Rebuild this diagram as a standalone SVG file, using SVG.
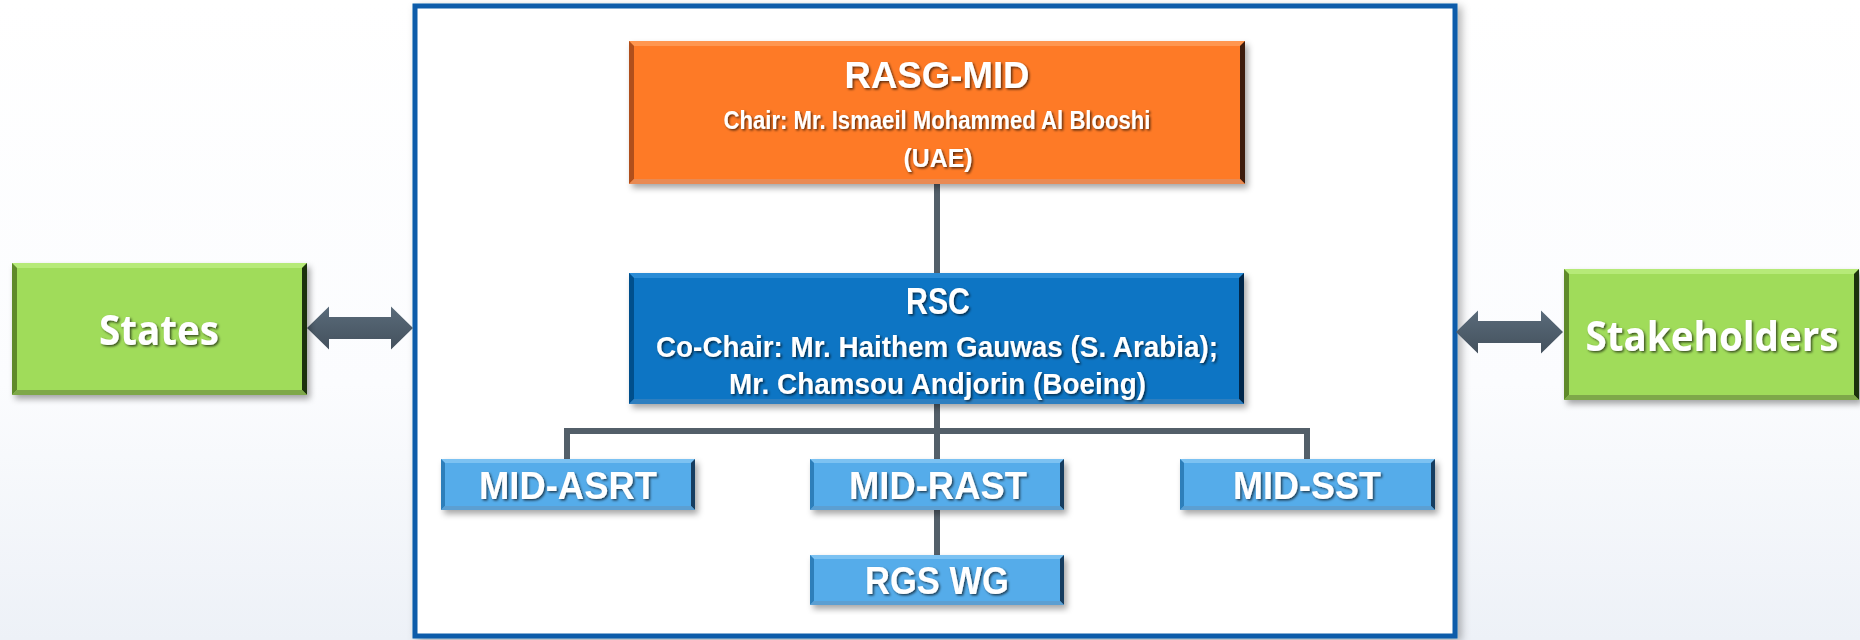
<svg xmlns="http://www.w3.org/2000/svg" width="1860" height="640" viewBox="0 0 1860 640">
  <defs>
    <linearGradient id="bg" x1="0" y1="0" x2="0" y2="1">
      <stop offset="0" stop-color="#ffffff"/>
      <stop offset="0.6" stop-color="#fbfcfe"/>
      <stop offset="1" stop-color="#edf1f7"/>
    </linearGradient>
    <linearGradient id="arrowGrad" x1="0" y1="0" x2="0" y2="1">
      <stop offset="0" stop-color="#5a6b7a"/>
      <stop offset="1" stop-color="#44515d"/>
    </linearGradient>
    <filter id="boxShadow" x="-10%" y="-10%" width="120%" height="130%">
      <feDropShadow dx="3" dy="4" stdDeviation="3" flood-color="#000" flood-opacity="0.35"/>
    </filter>
    <filter id="frameShadow" x="-5%" y="-5%" width="110%" height="110%">
      <feDropShadow dx="4" dy="3" stdDeviation="4" flood-color="#000" flood-opacity="0.3"/>
    </filter>
    <filter id="textShadow" x="-10%" y="-20%" width="120%" height="150%">
      <feDropShadow dx="1.5" dy="1.5" stdDeviation="1" flood-color="#000" flood-opacity="0.65"/>
    </filter>
  </defs>
  <style>
    .t { font-family: "Liberation Sans", Arial, sans-serif; font-weight: bold; fill: #ffffff; text-anchor: middle; filter: url(#textShadow); }
    .t2 { font-family: "Open Sans", "Liberation Sans", sans-serif; font-weight: bold; fill: #ffffff; text-anchor: middle; filter: url(#textShadow); }
    .orange { fill: #fe7a28; }
    .blue { fill: #0874c4; }
    .lblue { fill: #55acea; }
    .green { fill: #a0dc5a; }
    .o-top { fill: #ff9650; } .o-left { fill: #b0501a; } .o-right { fill: #3c1a08; } .o-bot { fill: #e98a52; }
    .b-top { fill: #2a8cd6; } .b-left { fill: #04508c; } .b-right { fill: #02254a; } .b-bot { fill: #2f7fc0; }
    .l-top { fill: #7cc2f2; } .l-left { fill: #2f7fba; } .l-right { fill: #163c60; } .l-bot { fill: #5b9fd2; }
    .g-top { fill: #b6ea78; } .g-left { fill: #5e8a2a; } .g-right { fill: #1e3008; } .g-bot { fill: #7ea84a; }
    .conn { fill: none; stroke: #535f69; stroke-width: 6; stroke-linejoin: miter; stroke-linecap: butt; }
    .dbl { fill: url(#arrowGrad); }
  </style>

  <rect x="0" y="0" width="1860" height="640" fill="url(#bg)"/>

  <!-- frame -->
  <g id="frame">
    <rect x="415" y="6" width="1040" height="630" fill="#ffffff" stroke="#0a5caa" stroke-width="5" filter="url(#frameShadow)"/>
  </g>

  <!-- connectors -->
  <g id="connectors">
    <line class="conn" x1="937" y1="184" x2="937" y2="273"/>
    <line class="conn" x1="937" y1="404" x2="937" y2="459"/>
    <path class="conn" d="M567 459 V431 H1307 V459"/>
    <line class="conn" x1="937" y1="510" x2="937" y2="555"/>
    <polygon class="dbl" points="307,328 329,306.5 329,317 391,317 391,306.5 413,328 391,349.5 391,339 329,339 329,349.5"/>
    <polygon class="dbl" points="1456,332 1478,310.5 1478,321 1541,321 1541,310.5 1563,332 1541,353.5 1541,343 1478,343 1478,353.5"/>
  </g>

  <!-- RASG-MID -->
  <g id="rasg-mid">
    <g filter="url(#boxShadow)">
      <rect class="orange" x="629" y="41" width="616" height="143"/>
      <polygon class="o-top" points="629,41 1245,41 1240,46 634,46"/>
      <polygon class="o-left" points="629,41 634,46 634,179 629,184"/>
      <polygon class="o-right" points="1245,41 1245,184 1240,179 1240,46"/>
      <polygon class="o-bot" points="629,184 634,179 1240,179 1245,184"/>
    </g>
    <text class="t" x="937" y="88" font-size="36" textLength="185" lengthAdjust="spacingAndGlyphs">RASG-MID</text>
    <text class="t" x="937" y="129" font-size="25" textLength="427" lengthAdjust="spacingAndGlyphs">Chair: Mr. Ismaeil Mohammed Al Blooshi</text>
    <text class="t" x="938" y="167" font-size="25" textLength="69" lengthAdjust="spacingAndGlyphs">(UAE)</text>
  </g>

  <!-- RSC -->
  <g id="rsc">
    <g filter="url(#boxShadow)">
      <rect class="blue" x="629" y="273" width="615" height="131"/>
      <polygon class="b-top" points="629,273 1244,273 1239,278 634,278"/>
      <polygon class="b-left" points="629,273 634,278 634,399 629,404"/>
      <polygon class="b-right" points="1244,273 1244,404 1239,399 1239,278"/>
      <polygon class="b-bot" points="629,404 634,399 1239,399 1244,404"/>
    </g>
    <text class="t" x="938" y="314" font-size="37" textLength="64" lengthAdjust="spacingAndGlyphs">RSC</text>
    <text class="t" x="937" y="357" font-size="30" textLength="562" lengthAdjust="spacingAndGlyphs">Co-Chair: Mr. Haithem Gauwas (S. Arabia);</text>
    <text class="t" x="937.5" y="394" font-size="30" textLength="417" lengthAdjust="spacingAndGlyphs">Mr. Chamsou Andjorin (Boeing)</text>
  </g>

  <!-- MID-ASRT -->
  <g id="mid-asrt">
    <g filter="url(#boxShadow)">
      <rect class="lblue" x="441" y="459" width="254" height="51"/>
      <polygon class="l-top" points="441,459 695,459 691,463 445,463"/>
      <polygon class="l-left" points="441,459 445,463 445,506 441,510"/>
      <polygon class="l-right" points="695,459 695,510 691,506 691,463"/>
      <polygon class="l-bot" points="441,510 445,506 691,506 695,510"/>
    </g>
    <text class="t" x="568" y="499" font-size="38" textLength="178" lengthAdjust="spacingAndGlyphs">MID-ASRT</text>
  </g>

  <!-- MID-RAST -->
  <g id="mid-rast">
    <g filter="url(#boxShadow)">
      <rect class="lblue" x="810" y="459" width="254" height="51"/>
      <polygon class="l-top" points="810,459 1064,459 1060,463 814,463"/>
      <polygon class="l-left" points="810,459 814,463 814,506 810,510"/>
      <polygon class="l-right" points="1064,459 1064,510 1060,506 1060,463"/>
      <polygon class="l-bot" points="810,510 814,506 1060,506 1064,510"/>
    </g>
    <text class="t" x="938" y="499" font-size="38" textLength="178" lengthAdjust="spacingAndGlyphs">MID-RAST</text>
  </g>

  <!-- MID-SST -->
  <g id="mid-sst">
    <g filter="url(#boxShadow)">
      <rect class="lblue" x="1180" y="459" width="255" height="51"/>
      <polygon class="l-top" points="1180,459 1435,459 1431,463 1184,463"/>
      <polygon class="l-left" points="1180,459 1184,463 1184,506 1180,510"/>
      <polygon class="l-right" points="1435,459 1435,510 1431,506 1431,463"/>
      <polygon class="l-bot" points="1180,510 1184,506 1431,506 1435,510"/>
    </g>
    <text class="t" x="1307" y="499" font-size="38" textLength="148" lengthAdjust="spacingAndGlyphs">MID-SST</text>
  </g>

  <!-- RGS WG -->
  <g id="rgs-wg">
    <g filter="url(#boxShadow)">
      <rect class="lblue" x="810" y="555" width="254" height="50"/>
      <polygon class="l-top" points="810,555 1064,555 1060,559 814,559"/>
      <polygon class="l-left" points="810,555 814,559 814,601 810,605"/>
      <polygon class="l-right" points="1064,555 1064,605 1060,601 1060,559"/>
      <polygon class="l-bot" points="810,605 814,601 1060,601 1064,605"/>
    </g>
    <text class="t" x="937" y="594" font-size="38" textLength="144" lengthAdjust="spacingAndGlyphs">RGS WG</text>
  </g>

  <!-- States -->
  <g id="states">
    <g filter="url(#boxShadow)">
      <rect class="green" x="12" y="263" width="295" height="132"/>
      <polygon class="g-top" points="12,263 307,263 302,268 17,268"/>
      <polygon class="g-left" points="12,263 17,268 17,390 12,395"/>
      <polygon class="g-right" points="307,263 307,395 302,390 302,268"/>
      <polygon class="g-bot" points="12,395 17,390 302,390 307,395"/>
    </g>
    <text class="t2" x="159" y="345" font-size="42" textLength="120" lengthAdjust="spacingAndGlyphs">States</text>
  </g>

  <!-- Stakeholders -->
  <g id="stakeholders">
    <g filter="url(#boxShadow)">
      <rect class="green" x="1564" y="269" width="295" height="131"/>
      <polygon class="g-top" points="1564,269 1859,269 1854,274 1569,274"/>
      <polygon class="g-left" points="1564,269 1569,274 1569,395 1564,400"/>
      <polygon class="g-right" points="1859,269 1859,400 1854,395 1854,274"/>
      <polygon class="g-bot" points="1564,400 1569,395 1854,395 1859,400"/>
    </g>
    <text class="t2" x="1712" y="351" font-size="42" textLength="253" lengthAdjust="spacingAndGlyphs">Stakeholders</text>
  </g>
</svg>
